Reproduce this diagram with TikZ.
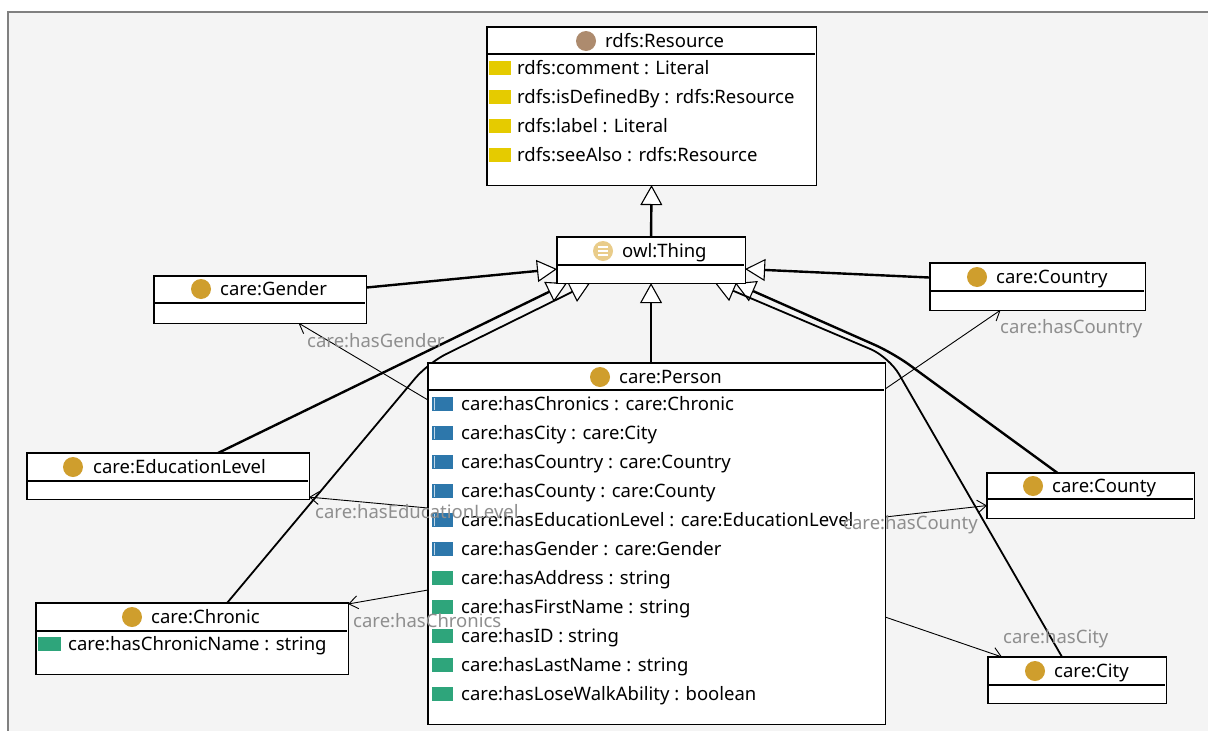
\documentclass[tikz,border=0pt]{standalone}
\usepackage{fontspec}
\setmainfont{Noto Sans}
\usetikzlibrary{arrows.meta}

\definecolor{panelbg}{HTML}{F4F4F4}
\definecolor{annoyellow}{HTML}{E5CB00}
\definecolor{objblue}{HTML}{2D77AB}
\definecolor{datagreen}{HTML}{2EA57B}
\definecolor{classgold}{HTML}{CF9E2D}
\definecolor{resbrown}{HTML}{AD8B6E}
\definecolor{thingtan}{HTML}{E9CC8A}
\definecolor{relgray}{HTML}{8E8E8E}

\begin{document}
\begin{tikzpicture}[
        x=1pt, y=-1pt,
        >={Straight Barb[length=9pt,width=13pt]},
        classbox/.style={draw, line width=1.1pt, fill=white, inner sep=0pt, anchor=north west},
        txt/.style={anchor=base west, inner sep=0pt, font=\fontsize{18.5}{21}\selectfont},
        rel/.style={txt, text=relgray},
        isa/.style={line width=2.4pt, -{Triangle[length=20pt,width=22pt,fill=white,line width=1.1pt]}},
        objprop/.style={line width=0.9pt, ->}
        ]
            \useasboundingbox (0,0) rectangle (1208,731);
            \fill[white] (0,0) rectangle (1208,731);
            \fill[panelbg] (8,12) rectangle (1208,731);
            \draw[gray, line width=1.2pt] (8,731) -- (8,12) -- (1208,12);

            % class boxes
            \node[classbox, minimum width=328pt, minimum height=157pt] (resource) at (487,27) {};
            \node[classbox, minimum width=187pt, minimum height=45pt] (thing) at (557,237) {};
            \node[classbox, minimum width=211pt, minimum height=46pt] (gender) at (154,276) {};
            \node[classbox, minimum width=214pt, minimum height=46pt] (country) at (930,263) {};
            \node[classbox, minimum width=456pt, minimum height=360pt] (person) at (428,363) {};
            \node[classbox, minimum width=281pt, minimum height=45pt] (edu) at (27,453) {};
            \node[classbox, minimum width=311pt, minimum height=70pt] (chronic) at (36,603) {};
            \node[classbox, minimum width=206pt, minimum height=44pt] (county) at (987,473) {};
            \node[classbox, minimum width=177pt, minimum height=45pt] (city) at (988,657) {};

            % subclass edges
            \draw[isa] (thing.north) -- (resource.south);
            \draw[isa] (thing.south |- person.north) -- (thing.south);
            \draw[isa] ([yshift=12pt]gender.east) -- ([yshift=-9pt]thing.west);
            \draw[isa] ([yshift=9pt]country.west) -- ([yshift=-9pt]thing.east);
            \draw[isa] ([xshift=50pt]edu.north) -- ([xshift=10pt]thing.south west);
            \draw[isa, line width=1.8pt, rounded corners=20pt] ([xshift=35pt]chronic.north) -- (person.north west) -- ([xshift=33pt]thing.south west);
            \draw[isa, rounded corners=20pt] ([xshift=-33pt]county.north) -- ([shift={(8pt,10pt)}]person.north east) -- ([xshift=-10pt]thing.south east);
            \draw[isa, line width=1.8pt, rounded corners=20pt] ([xshift=-15pt]city.north) -- ([shift={(4pt,6pt)}]person.north east) -- ([xshift=-30pt]thing.south east);

            % object property edges
            \draw[objprop] ([yshift=-37pt]person.north west) -- ([xshift=38.5pt]gender.south);
            \draw[objprop] ([yshift=-26pt]person.north east) -- ([xshift=-37pt]country.south);
            \draw[objprop] ([yshift=-145pt]person.north west) -- ([yshift=2pt]edu.south east);
            \draw[objprop] ([yshift=-154pt]person.north east) -- ([yshift=-10pt]county.west);
            \draw[objprop] ([yshift=-227pt]person.north west) -- ([yshift=-1pt]chronic.north east);
            \draw[objprop] ([yshift=-254pt]person.north east) -- ([xshift=14pt]city.north west);

            % redraw boxes over the edges
            \foreach \b in {resource,thing,gender,country,person,edu,chronic,county,city}
                \draw[line width=1.1pt, fill=white] (\b.north west) rectangle (\b.south east);

            % rdfs:Resource
            \draw[line width=1.1pt] (487,54) -- (815,54);
            \fill[resbrown] (586,41) circle (10pt);
            \node[txt] (resourcetitle) at (605,47.5) {rdfs:Resource};
            \fill[annoyellow] (489,61) rectangle (511,75);
            \node[txt] (rescomment) at (517,74.5) {rdfs:comment : Literal};
            \fill[annoyellow] (489,90) rectangle (511,104);
            \node[txt] (resdefined) at (517,103.5) {rdfs:isDefinedBy : rdfs:Resource};
            \fill[annoyellow] (489,119) rectangle (511,133);
            \node[txt] (reslabel) at (517,132.5) {rdfs:label : Literal};
            \fill[annoyellow] (489,148) rectangle (511,162);
            \node[txt] (resseealso) at (517,161.5) {rdfs:seeAlso : rdfs:Resource};

            % owl:Thing
            \draw[line width=1.1pt] (557,265) -- (744,265);
            \fill[thingtan] (603,251) circle (10pt);
            \draw[white, line width=1.2pt] (598,247) -- (608,247) (598,251) -- (608,251) (598,255) -- (608,255);
            \node[txt] (thingtitle) at (622,257.5) {owl:Thing};

            % care:Gender
            \draw[line width=1.1pt] (154,303) -- (365,303);
            \fill[classgold] (201,289) circle (10pt);
            \node[txt] (gendertitle) at (220,295.5) {care:Gender};

            % care:Country
            \draw[line width=1.1pt] (930,291) -- (1144,291);
            \fill[classgold] (977,277) circle (10pt);
            \node[txt] (countrytitle) at (996,283.5) {care:Country};

            % care:EducationLevel
            \draw[line width=1.1pt] (27,481) -- (308,481);
            \fill[classgold] (73,467) circle (10pt);
            \node[txt] (edutitle) at (93,473.5) {care:EducationLevel};

            % care:Chronic
            \draw[line width=1.1pt] (36,631) -- (347,631);
            \fill[classgold] (132,617) circle (10pt);
            \node[txt] (chronictitle) at (151,623.5) {care:Chronic};
            \fill[datagreen] (38,637) rectangle (61,651);
            \node[txt] (chronicname) at (68,650.5) {care:hasChronicName : string};

            % care:County
            \draw[line width=1.1pt] (987,499) -- (1193,499);
            \fill[classgold] (1033,486) circle (10pt);
            \node[txt] (countytitle) at (1052,492.5) {care:County};

            % care:City
            \draw[line width=1.1pt] (988,685) -- (1165,685);
            \fill[classgold] (1035,671) circle (10pt);
            \node[txt] (citytitle) at (1054,677.5) {care:City};

            % care:Person
            \draw[line width=1.1pt] (428,390) -- (884,390);
            \fill[classgold] (600,377) circle (10pt);
            \node[txt] (persontitle) at (619,383.5) {care:Person};
            \fill[objblue] (432,397) rectangle (453,411);
            \draw[white!70!objblue] (434.5,398) -- (434.5,410);
            \node[txt] (pchronics) at (461,410.5) {care:hasChronics : care:Chronic};
            \fill[objblue] (432,426) rectangle (453,440);
            \draw[white!70!objblue] (434.5,427) -- (434.5,439);
            \node[txt] (pcity) at (461,439.5) {care:hasCity : care:City};
            \fill[objblue] (432,455) rectangle (453,469);
            \draw[white!70!objblue] (434.5,456) -- (434.5,468);
            \node[txt] (pcountry) at (461,468.5) {care:hasCountry : care:Country};
            \fill[objblue] (432,484) rectangle (453,498);
            \draw[white!70!objblue] (434.5,485) -- (434.5,497);
            \node[txt] (pcounty) at (461,497.5) {care:hasCounty : care:County};
            \fill[objblue] (432,513) rectangle (453,527);
            \draw[white!70!objblue] (434.5,514) -- (434.5,526);
            \node[txt] (pedu) at (461,526.5) {care:hasEducationLevel : care:EducationLevel};
            \fill[objblue] (432,542) rectangle (453,556);
            \draw[white!70!objblue] (434.5,543) -- (434.5,555);
            \node[txt] (pgender) at (461,555.5) {care:hasGender : care:Gender};
            \fill[datagreen] (432,571) rectangle (453,585);
            \node[txt] (paddress) at (461,584.5) {care:hasAddress : string};
            \fill[datagreen] (432,600) rectangle (453,614);
            \node[txt] (pfirst) at (461,613.5) {care:hasFirstName : string};
            \fill[datagreen] (432,629) rectangle (453,643);
            \node[txt] (pid) at (461,642.5) {care:hasID : string};
            \fill[datagreen] (432,658) rectangle (453,672);
            \node[txt] (plast) at (461,671.5) {care:hasLastName : string};
            \fill[datagreen] (432,687) rectangle (453,701);
            \node[txt] (pwalk) at (461,700.5) {care:hasLoseWalkAbility : boolean};

            % edge labels
            \node[rel] (hasgender) at (307,347.5) {care:hasGender};
            \node[rel] (hascountry) at (1000,333.5) {care:hasCountry};
            \node[rel] (hasedu) at (315,518.5) {care:hasEducationLevel};
            \node[rel] (hascounty) at (843,529.5) {care:hasCounty};
            \node[rel] (haschronics) at (353,627.5) {care:hasChronics};
            \node[rel] (hascity) at (1003,643.5) {care:hasCity};
        \end{tikzpicture}
\end{document}
